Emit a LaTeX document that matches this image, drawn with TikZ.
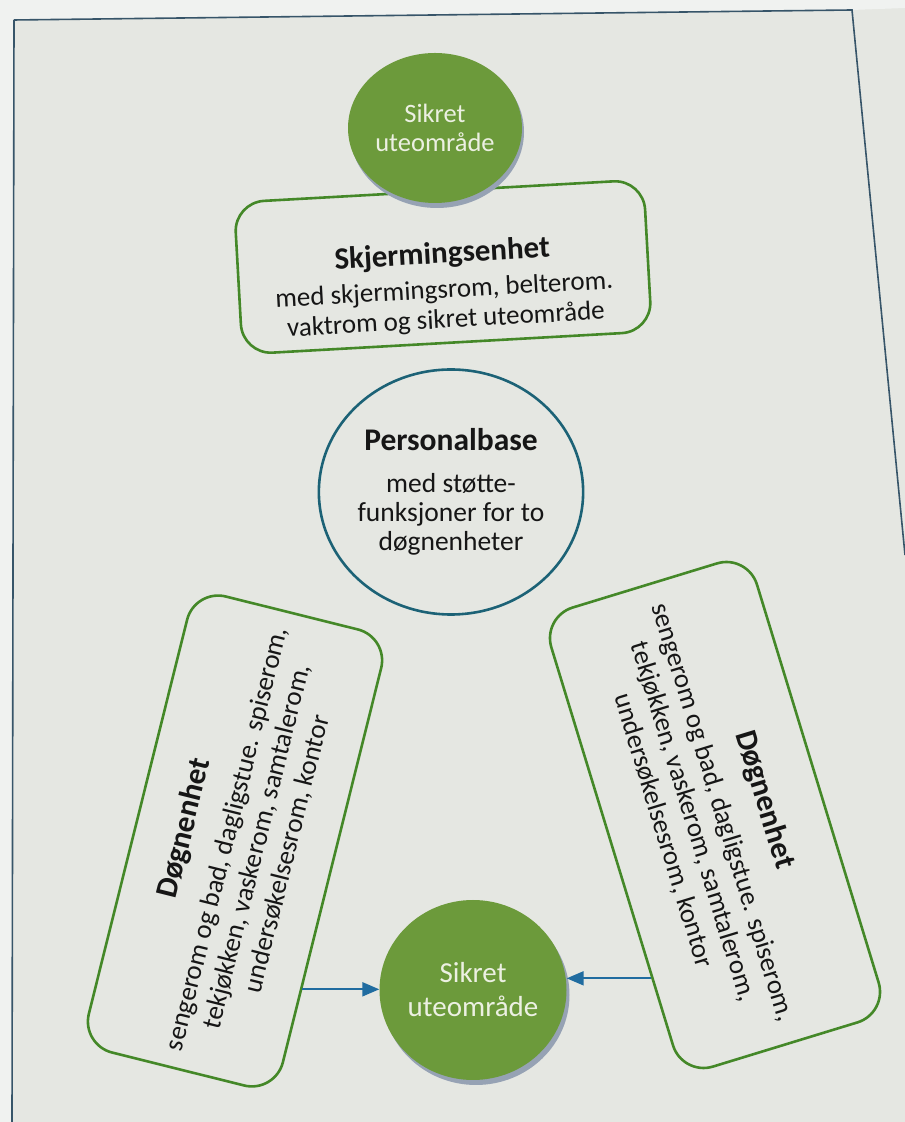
\documentclass[tikz,border=0pt]{standalone}
\usepackage{fontspec}
\setmainfont{Carlito}
\usetikzlibrary{shapes.geometric,arrows.meta,calc}
\definecolor{paper}{RGB}{229,231,226}
\definecolor{paperlight}{RGB}{240,242,240}
\definecolor{grn}{RGB}{108,154,59}
\definecolor{gtext}{RGB}{236,240,226}
\definecolor{boxgrn}{RGB}{68,136,40}
\definecolor{pbteal}{RGB}{28,98,118}
\definecolor{arrblue}{RGB}{32,108,160}
\definecolor{frameline}{RGB}{55,85,105}
\definecolor{shadowc}{RGB}{150,162,180}
\definecolor{ink}{RGB}{22,22,22}
\begin{document}
\begin{tikzpicture}[x=1pt,y=1pt,
  gbox/.style={draw=boxgrn, line width=2.6pt, fill=paper, rounded corners=32pt,
    align=center, text=ink, inner sep=0pt, font=\fontsize{27}{31}\selectfont},
  gcirc/.style={ellipse, fill=grn, text=gtext, align=center, inner sep=0pt},
  pcirc/.style={ellipse, draw=pbteal, line width=2.6pt, align=center, text=ink,
    inner sep=0pt, font=\fontsize{27.5}{29}\selectfont},
  textblock/.style={align=center, text=ink, inner sep=0pt, font=\fontsize{27}{30}\selectfont},
  arrowline/.style={draw=arrblue, line width=2pt, -{Triangle[length=17pt,width=14pt]}},
  frame/.style={draw=frameline, line width=1.6pt}
]
% page
\fill[paper] (0,0) rectangle (905,1122);
\useasboundingbox (0,0) rectangle (905,1122);
\fill[paperlight] (0,1122) -- (905,1122) -- (905,1114) -- (852,1112) -- (14,1102) -- (0,1102) -- cycle;
\fill[paperlight] (0,1102) -- (14,1102) -- (12,0) -- (0,0) -- cycle;
\draw[frame] (14,1102) -- (852,1112) -- (905,567);
\draw[frame] (14,1102) -- (12,0);

% Skjermingsenhet box
\node[gbox, minimum width=410pt, minimum height=152pt, rotate=3.2, rounded corners=30pt] (sbox) at (443,855) {};
\node[textblock, rotate=3.2] (stext) at ($(sbox.center)+(1,-20)$)
  {{\fontsize{31}{34}\selectfont\bfseries Skjermingsenhet}\\[5pt]
   med skjermingsrom, belterom.\\ vaktrom og sikret uteområde};

% top circle
\fill[shadowc] (437,990) ellipse [x radius=87pt, y radius=76pt];
\node[gcirc, minimum width=174pt, minimum height=150pt, font=\fontsize{26.5}{29}\selectfont] (topc) at (435,994)
  {Sikret\\uteområde};

% Personalbase
\node[pcirc, minimum width=263pt, minimum height=245pt] (pbase) at (451,630)
  {{\fontsize{31.5}{34}\selectfont\bfseries Personalbase}\\[13pt]
   med støtte-\\ funksjoner for to\\ døgnenheter};

% Døgnenhet boxes
\node[gbox, minimum width=470pt, minimum height=200pt, rotate=76] (lbox) at (235,281)
  {{\fontsize{31}{34}\selectfont\bfseries Døgnenhet}\\[12pt]
   sengerom og bad, dagligstue. spiserom,\\
   tekjøkken, vaskerom, samtalerom,\\
   undersøkelsesrom, kontor};
\node[gbox, minimum width=480pt, minimum height=215pt, rotate=-73] (rbox) at (715,307)
  {{\fontsize{31}{34}\selectfont\bfseries Døgnenhet}\\[12pt]
   sengerom og bad, dagligstue. spiserom,\\
   tekjøkken, vaskerom, samtalerom,\\
   undersøkelsesrom, kontor};

% bottom circle
\fill[shadowc] (476,127) ellipse [x radius=93.5pt, y radius=90pt];
\node[gcirc, minimum width=187pt, minimum height=180pt, font=\fontsize{29}{34}\selectfont] (botc) at (473,132)
  {Sikret\\uteområde};

% arrows
\coordinate (la) at ($(lbox.south)!0.54!(lbox.south west)$);
\coordinate (ra) at ($(rbox.south)!0.57!(rbox.south east)$);
\draw[arrowline] (la) -- (la -| botc.west);
\draw[arrowline] (ra) -- (ra -| botc.east);
\end{tikzpicture}
\end{document}
